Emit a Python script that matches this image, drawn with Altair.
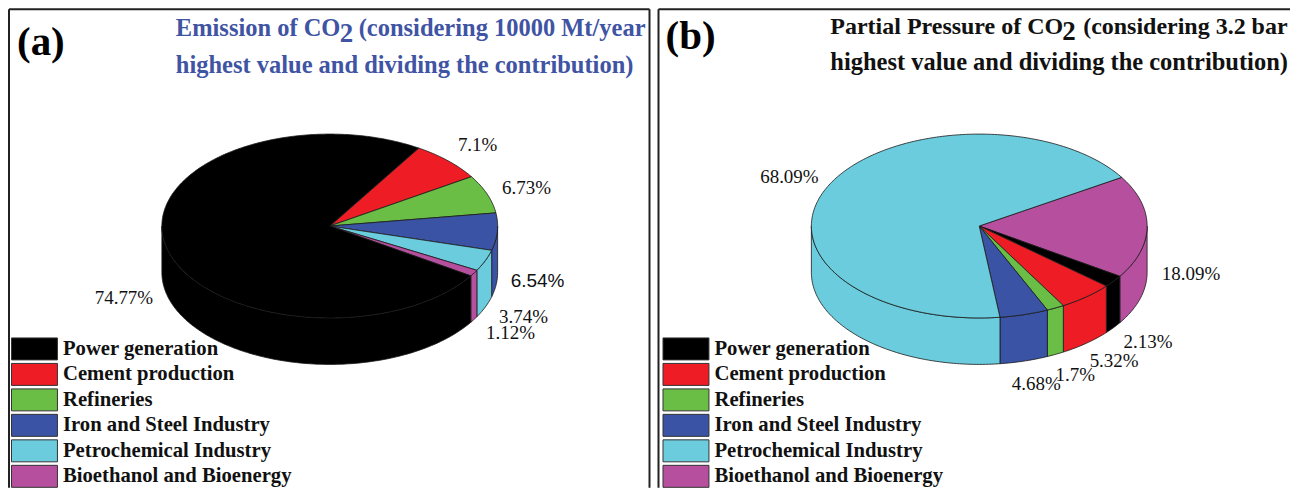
import math
import altair as alt

CATEGORIES = ["Power generation", "Cement production", "Refineries",
              "Iron and Steel Industry", "Petrochemical Industry", "Bioethanol and Bioenergy"]
COLORS = ["#000000", "#ee1c25", "#6abd45", "#3a53a4", "#6bccdd", "#b74f9f"]
SHARES_A = [74.77, 7.1, 6.73, 6.54, 3.74, 1.12]
SHARES_B = [2.13, 5.32, 1.7, 4.68, 68.09, 18.09]
LABELS_A = ["74.77%", "7.1%", "6.73%", "6.54%", "3.74%", "1.12%"]
LABELS_B = ["2.13%", "5.32%", "1.7%", "4.68%", "68.09%", "18.09%"]
# clockwise drawing order and angle where it starts
ORDER_A = [1, 2, 3, 4, 5, 0]
ORDER_B = [5, 0, 1, 2, 3, 4]
START_A, START_B = 58.0, 32.0

RX = 168
TILT, DEPTH = 92 / RX, 46.5 / RX
SERIF = "Liberation Serif"
SANS = "Liberation Sans"


def arc(a1, a2):
    n = max(2, int(abs(a1 - a2)) + 1)
    return [(a1 + (a2 - a1) * i / n) for i in range(n + 1)]


def pt(a, dz=0.0):
    r = math.radians(a)
    return [math.cos(r), -math.sin(r) * TILT + dz]


def feature(cat, ring):
    ring = ring + [ring[0]]
    return {"type": "Feature", "properties": {"category": cat},
            "geometry": {"type": "Polygon", "coordinates": [ring]}}


def pie_features(shares, order, start):
    sides, tops = [], []
    a = start
    for i in order:
        b = a - shares[i] * 3.6
        tops.append(feature(CATEGORIES[i], [[0.0, 0.0]] + [pt(t) for t in arc(a, b)]))
        for shift in (0, 360):
            hi, lo = min(a + shift, 0), max(b + shift, -180)
            if hi > lo:
                ang = arc(hi, lo)
                sides.append(feature(CATEGORIES[i], [pt(t) for t in ang] +
                                     [pt(t, DEPTH) for t in reversed(ang)]))
        a = b
    return sides + tops


def text_layer(text, x, y, size, color="#111111", weight="normal", font=SERIF, align="center"):
    return alt.Chart(alt.Data(values=[{}])).mark_text(
        text=text, x=x, y=y, fontSize=size, color=color, fontWeight=weight, font=font,
        align=align, baseline="middle")


def frame_layer(x, x2, y, y2):
    return alt.Chart(alt.Data(values=[{}])).mark_rule(color="#222222", strokeWidth=2).encode(
        x=alt.value(x), x2=alt.value(x2), y=alt.value(y), y2=alt.value(y2))


def pie_layer(shares, order, start, cx, cy, legend_x):
    legend = alt.Legend(
        title=None, orient="none", legendX=legend_x, legendY=329.5,
        symbolType="M-2.09,-1H2.09V1H-2.09Z", symbolSize=484, symbolStrokeWidth=1,
        symbolStrokeColor="#333333", symbolOpacity=1, rowPadding=-1.5, padding=0,
        labelFont=SERIF, labelFontWeight="bold", labelFontSize=20.7, labelColor="#111111",
        labelLimit=400, labelOffset=17)
    return alt.Chart(alt.Data(values=pie_features(shares, order, start))).mark_geoshape(
        stroke="#1a1a1a", strokeWidth=0.8).encode(
        color=alt.Color("properties.category:N",
                        scale=alt.Scale(domain=CATEGORIES, range=COLORS), legend=legend)
    ).project(type="identity", scale=RX, translate=[cx, cy])


BLUE = "#3f54a3"
panel_a = alt.layer(
    frame_layer(1, 642, 1, 1), frame_layer(1, 1, 1, 480), frame_layer(642, 642, 1, 480),
    pie_layer(SHARES_A, ORDER_A, START_A, 322, 218, 15),
    text_layer("(a)", 9, 35, 41, "#000000", "bold", align="left"),
    text_layer("Emission of CO", 168, 21, 24.5, BLUE, "bold", align="left"),
    text_layer("2", 332, 26, 27, BLUE, "bold", align="left"),
    text_layer("(considering 10000 Mt/year", 351, 21, 24.5, BLUE, "bold", align="left"),
    text_layer("highest value and dividing the contribution)", 168, 58, 24.5, BLUE, "bold", align="left"),
    text_layer(LABELS_A[1], 470, 137, 19),
    text_layer(LABELS_A[2], 519, 180, 19),
    text_layer(LABELS_A[3], 530, 273, 19, "#111111", font=SANS),
    text_layer(LABELS_A[4], 516, 309, 19),
    text_layer(LABELS_A[5], 503, 325, 19),
    text_layer(LABELS_A[0], 116, 290, 19),
).properties(width=643, height=480)

panel_b = alt.layer(
    frame_layer(1, 633, 1, 1), frame_layer(1, 1, 1, 480),
    pie_layer(SHARES_B, ORDER_B, START_B, 323, 218, 17),
    text_layer("(b)", 8, 29, 41, "#000000", "bold", align="left"),
    text_layer("Partial Pressure of CO", 173, 19, 24, "#111111", "bold", align="left"),
    text_layer("2", 405, 24, 27, "#111111", "bold", align="left"),
    text_layer("(considering 3.2 bar", 426, 19, 24, "#111111", "bold", align="left"),
    text_layer("highest value and dividing the contribution)", 173, 55, 24.5, "#111111", "bold", align="left"),
    text_layer(LABELS_B[4], 132, 169, 19),
    text_layer(LABELS_B[5], 534, 266, 19),
    text_layer(LABELS_B[0], 491, 334, 19),
    text_layer(LABELS_B[1], 457, 353, 19),
    text_layer(LABELS_B[2], 418, 367, 19),
    text_layer(LABELS_B[3], 379, 376, 19),
).properties(width=633, height=480)

chart = alt.hconcat(panel_a, panel_b, spacing=7, bounds="flush", padding=0).resolve_scale(
    color="independent"
).configure_view(stroke=None)

chart.save("out.html", embed_options={"renderer": "svg", "actions": False})
